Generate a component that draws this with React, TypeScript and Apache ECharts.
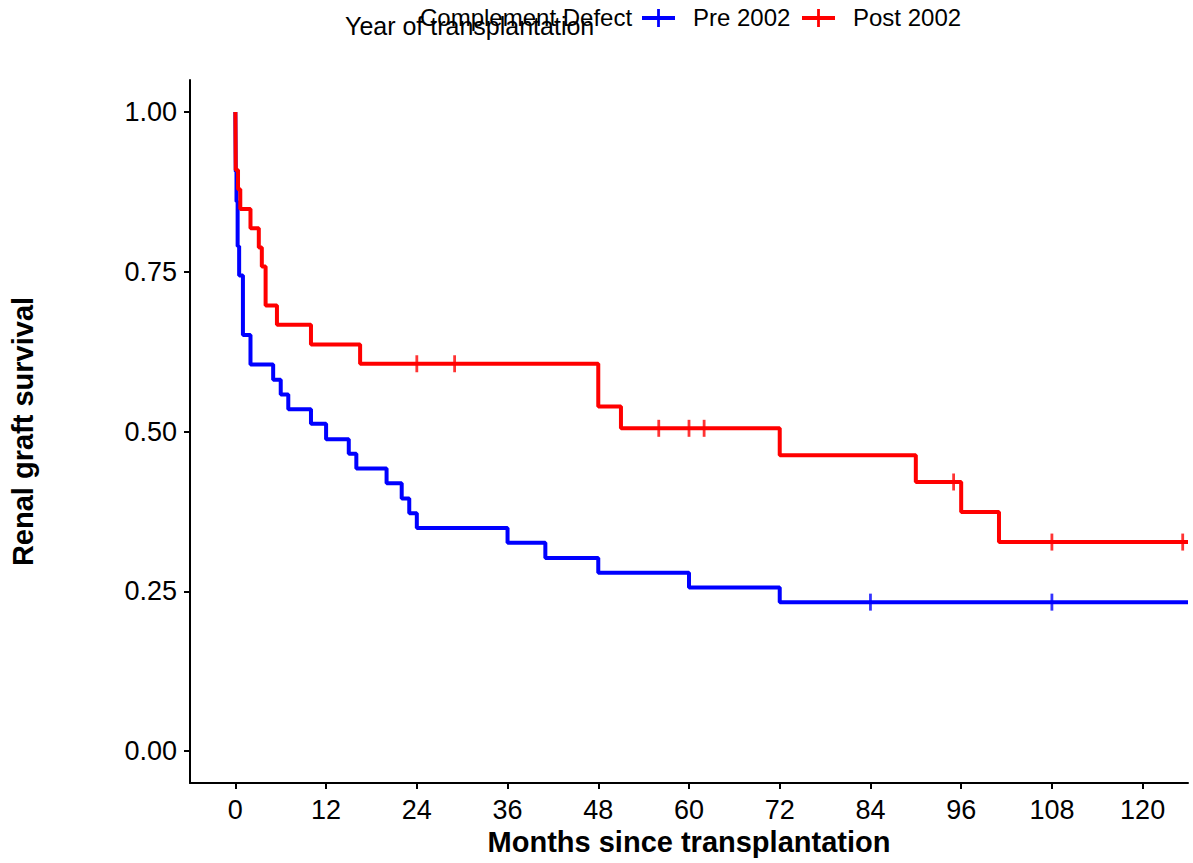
import React, { useEffect, useRef } from "react";
import * as echarts from "echarts";

// ---- data ----
const xTicks = [0, 12, 24, 36, 48, 60, 72, 84, 96, 108, 120];
const yTicks = [0, 0.25, 0.5, 0.75, 1.0];

const preTimes = [0, 0.05, 0.15, 0.3, 0.5, 1.0, 2.0, 5.0, 6.0, 7.0, 10.0, 12.0, 15.0, 16.0, 20.0, 22.0, 23.0, 24.0, 36.0, 41.0, 48.0, 60.0, 72.0, 126.0];
const preSurv = [1.0, 0.907, 0.86, 0.79, 0.744, 0.651, 0.605, 0.581, 0.558, 0.535, 0.512, 0.488, 0.465, 0.442, 0.419, 0.395, 0.372, 0.349, 0.326, 0.302, 0.279, 0.256, 0.233, 0.233];
const preCensor = [84, 108];

const postTimes = [0, 0.05, 0.35, 0.65, 2.0, 3.1, 3.5, 4.0, 5.5, 10.0, 16.5, 48.0, 51.0, 72.0, 90.0, 96.0, 101.0, 126.0];
const postSurv = [1.0, 0.909, 0.879, 0.848, 0.818, 0.788, 0.758, 0.697, 0.667, 0.636, 0.606, 0.539, 0.505, 0.463, 0.421, 0.374, 0.327, 0.327];
const postCensor = [24, 29, 56, 60, 62, 95, 108, 125.3];

const seriesNames = ["Pre 2002", "Post 2002"];
const seriesColors = ["#0000FF", "#FF0000"];

function survAt(times: number[], surv: number[], t: number): number {
  let v = surv[0];
  for (let i = 0; i < times.length; i++) {
    if (times[i] <= t) v = surv[i];
  }
  return v;
}

const FONT = "'Liberation Sans', Arial, Helvetica, sans-serif";

export default function App() {
  const ref = useRef<HTMLDivElement>(null);

  useEffect(() => {
    if (!ref.current) return;
    const chart = echarts.init(ref.current, null, { renderer: "svg" });

    const curves = [
      { times: preTimes, surv: preSurv, censor: preCensor },
      { times: postTimes, surv: postSurv, censor: postCensor },
    ];

    const series: any[] = [];
    curves.forEach((c, i) => {
      series.push({
        name: seriesNames[i],
        type: "line",
        step: "end",
        showSymbol: false,
        data: c.times.map((t, k) => [t, c.surv[k]]),
        lineStyle: { color: seriesColors[i], width: 4 },
        itemStyle: { color: seriesColors[i] },
        z: 2,
      });
      series.push({
        name: seriesNames[i] + " censored",
        type: "scatter",
        symbol: "rect",
        symbolSize: [2.8, 17],
        data: c.censor.map((t) => [t, survAt(c.times, c.surv, t)]),
        itemStyle: { color: seriesColors[i] },
        z: 3,
      });
    });

    const legendY = 18;
    const keyW = 33;
    const legendFont = 24;
    const keys = [
      { x: 642, tx: 693 },
      { x: 802, tx: 853 },
    ];
    const graphic: any[] = [
      {
        type: "text",
        left: 345,
        top: 27 - 14,
        style: { text: "Year of transplantation", fontSize: 25, fontFamily: FONT, fill: "#000" },
      },
      {
        type: "text",
        left: 420,
        top: legendY - 13,
        style: { text: "Complement Defect", fontSize: 24, fontFamily: FONT, fill: "#000" },
      },
    ];
    keys.forEach((k, i) => {
      graphic.push({
        type: "line",
        shape: { x1: k.x, y1: legendY, x2: k.x + keyW, y2: legendY },
        style: { stroke: seriesColors[i], lineWidth: 4 },
      });
      graphic.push({
        type: "line",
        shape: { x1: k.x + keyW / 2, y1: legendY - 9, x2: k.x + keyW / 2, y2: legendY + 9 },
        style: { stroke: seriesColors[i], lineWidth: 2.8 },
      });
      graphic.push({
        type: "text",
        left: k.tx,
        top: legendY - 13,
        style: { text: seriesNames[i], fontSize: legendFont, fontFamily: FONT, fill: "#000" },
      });
    });

    chart.setOption({
      animation: false,
      backgroundColor: "#ffffff",
      grid: { left: 190, right: 5, top: 80, bottom: 80, containLabel: false, outerBoundsMode: "none" },
      xAxis: {
        type: "value",
        min: -6,
        max: 126,
        name: "Months since transplantation",
        nameLocation: "middle",
        nameGap: 44,
        nameTextStyle: { fontSize: 29, fontWeight: "bold", color: "#000", fontFamily: FONT },
        axisLine: { show: true, onZero: false, lineStyle: { color: "#000", width: 2 } },
        axisTick: { show: true, length: 6, lineStyle: { color: "#000", width: 2 }, customValues: xTicks },
        axisLabel: { fontSize: 27, color: "#000", fontFamily: FONT, margin: 13, customValues: xTicks },
        splitLine: { show: false },
      },
      yAxis: {
        type: "value",
        min: -0.05,
        max: 1.05,
        name: "Renal graft survival",
        nameLocation: "middle",
        nameGap: 153,
        nameTextStyle: { fontSize: 29, fontWeight: "bold", color: "#000", fontFamily: FONT },
        axisLine: { show: true, onZero: false, lineStyle: { color: "#000", width: 2 } },
        axisTick: { show: true, length: 6, lineStyle: { color: "#000", width: 2 }, customValues: yTicks },
        axisLabel: {
          fontSize: 27,
          color: "#000",
          fontFamily: FONT,
          margin: 13,
          customValues: yTicks,
          formatter: (v: number) => v.toFixed(2),
        },
        splitLine: { show: false },
      },
      graphic,
      series,
    });

    return () => chart.dispose();
  }, []);

  return (
    <div
      ref={ref}
      style={{ position: "fixed", left: 0, top: 0, width: 1193, height: 863, background: "#fff" }}
    />
  );
}
